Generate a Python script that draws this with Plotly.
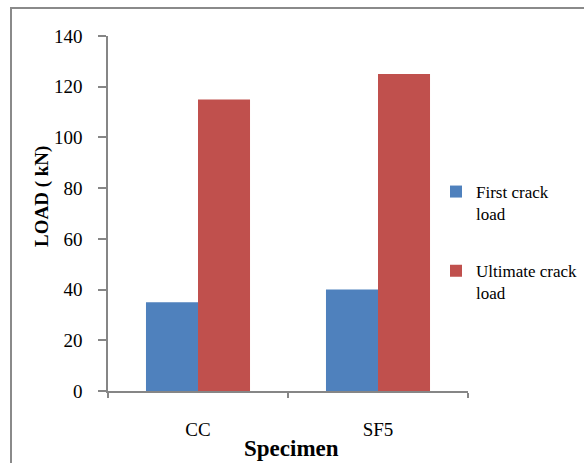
import plotly.graph_objects as go

categories = ["CC", "SF5"]
first_crack = [35, 40]
ultimate_crack = [115, 125]
y_ticks = [0, 20, 40, 60, 80, 100, 120, 140]

W, H = 584, 463
L, R, T, B = 108, 468, 36, 391

fig = go.Figure()
fig.add_trace(go.Bar(x=categories, y=first_crack, name="First crack<br>load",
                     marker=dict(color="#4F81BD", line=dict(width=0)), legendgroup="a"))
fig.add_trace(go.Bar(x=categories, y=ultimate_crack, name="Ultimate crack<br>load",
                     marker=dict(color="#C0504D", line=dict(width=0)), legendgroup="b"))

pw, ph = R - L, B - T
def px(x): return (x - L) / pw
def py(y): return (B - y) / ph

font = "Liberation Serif"
fig.update_layout(
    width=W, height=H,
    margin=dict(l=L, r=W - R, t=T, b=H - B, autoexpand=False),
    paper_bgcolor="white", plot_bgcolor="white",
    barmode="group", bargap=0.422, bargroupgap=0,
    font=dict(family=font, color="black"),
    showlegend=True,
    legend=dict(x=px(436), y=py(174), xanchor="left", yanchor="top", valign="top",
                font=dict(size=17, family=font, color="black"),
                tracegroupgap=32, itemwidth=30, bgcolor="rgba(0,0,0,0)"),
    xaxis=dict(range=[-0.5, 1.5], showline=True, linecolor="#868686", linewidth=1.5,
               ticks="outside", tickson="boundaries", ticklen=5, tickcolor="#868686",
               tickwidth=1.5, tickfont=dict(size=19, family=font, color="black"),
               ticklabelstandoff=20, showgrid=False, zeroline=False),
    yaxis=dict(range=[0, 140], tickvals=y_ticks, showline=True, linecolor="#868686",
               linewidth=1.5, ticks="outside", ticklen=8, tickcolor="#868686", tickwidth=1.5,
               tickfont=dict(size=19, family=font, color="black"), ticklabelstandoff=12,
               showgrid=False, zeroline=False),
    annotations=[
        dict(text="<b>LOAD ( kN)</b>", textangle=-90, xref="paper", yref="paper",
             x=px(42), y=py(197), xanchor="center", yanchor="middle", showarrow=False,
             font=dict(size=19, family=font, color="black")),
        dict(text="<b>Specimen</b>", xref="paper", yref="paper",
             x=px(291), y=py(448), xanchor="center", yanchor="middle", showarrow=False,
             font=dict(size=23, family=font, color="black")),
    ],
    shapes=[
        dict(type="rect", xref="paper", yref="paper", x0=px(11), x1=px(620),
             y0=py(500), y1=py(8), line=dict(color="#8a8a8a", width=2), fillcolor="rgba(0,0,0,0)",
             layer="below"),
    ],
)

fig.write_html("out.html")
